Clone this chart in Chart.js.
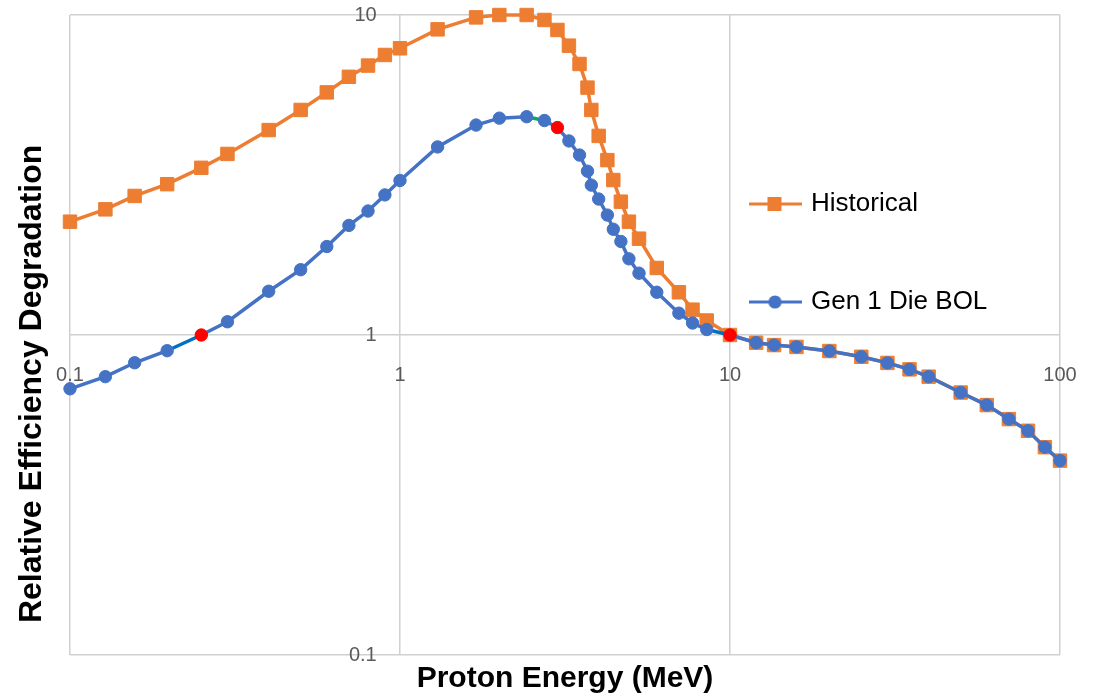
<!DOCTYPE html>
<html>
<head>
<meta charset="utf-8">
<title>Relative Efficiency Degradation vs Proton Energy</title>
<script src="https://cdn.jsdelivr.net/npm/chart.js@4.4.1/dist/chart.umd.min.js"></script>
<style>
  html, body { margin: 0; padding: 0; background: #fff; }
  #wrap { width: 1097px; height: 697px; }
</style>
</head>
<body>
<div id="wrap"><canvas id="degradationChart" width="1097" height="697"></canvas></div>
<script>
// proton energy in MeV, shared by both series
const energy = [0.1, 0.128, 0.157, 0.197, 0.25, 0.3, 0.4, 0.5, 0.6, 0.7, 0.8, 0.9, 1.0,
  1.3, 1.7, 2.0, 2.42, 2.74, 3.0, 3.25, 3.5, 3.7, 3.8, 4.0, 4.25, 4.43, 4.67, 4.94, 5.3,
  6.0, 7.0, 7.7, 8.5, 10, 12, 13.6, 15.9, 20, 25, 30, 35, 40, 50, 60, 70, 80, 90, 100];

const historical = [2.26, 2.47, 2.72, 2.96, 3.33, 3.68, 4.37, 5.05, 5.73, 6.41, 6.95, 7.5, 7.87,
  9.02, 9.83, 10.0, 10.0, 9.65, 8.98, 8.02, 7.03, 5.93, 5.05, 4.19, 3.52, 3.05, 2.61, 2.26, 2.0,
  1.62, 1.36, 1.2, 1.11, 1.0, 0.946, 0.93, 0.918, 0.891, 0.855, 0.818, 0.781, 0.741, 0.661, 0.604,
  0.546, 0.502, 0.446, 0.405];

const gen1DieBol = [0.679, 0.741, 0.819, 0.893, 1.0, 1.10, 1.37, 1.60, 1.89, 2.20, 2.44, 2.74, 3.04,
  3.87, 4.53, 4.76, 4.81, 4.68, 4.45, 4.04, 3.65, 3.25, 2.94, 2.66, 2.37, 2.14, 1.96, 1.73, 1.56,
  1.36, 1.17, 1.09, 1.04, 1.0, 0.946, 0.93, 0.918, 0.891, 0.855, 0.818, 0.781, 0.741, 0.661, 0.604,
  0.546, 0.502, 0.446, 0.405];

// Gen 1 points drawn in red
const flaggedEnergy = [0.25, 3, 10];

const xTickValues = [0.1, 1, 10, 100];
const yTickValues = [0.1, 1, 10];

const FONT = "'Liberation Sans', Arial, sans-serif";
const ORANGE = '#ED7D31';
const BLUE = '#4472C4';
const RED = '#FF0000';
const GRID = '#D0D0D0';
const TICK = '#595959';

// a few Gen 1 segments have their own line colour (keyed by starting energy)
function accentFor(e) {
  if (e === 0.197 || e === 8.5) return '#0070C0';
  if (e === 2.42) return '#00B050';
  return undefined;
}

function legendIcon(color, style) {
  const c = document.createElement('canvas');
  c.width = 53; c.height = 16;
  const g = c.getContext('2d');
  g.strokeStyle = color; g.lineWidth = 3;
  g.beginPath(); g.moveTo(0, 8); g.lineTo(53, 8); g.stroke();
  g.fillStyle = color;
  if (style === 'rect') {
    g.fillRect(19, 1, 14, 14);
  } else {
    g.beginPath(); g.arc(26.5, 8, 6.6, 0, Math.PI * 2); g.fill();
  }
  return c;
}

function fixedTicks(values) {
  return scale => { scale.ticks = values.map(v => ({ value: v })); };
}

// legend sits inside the plot, right of the 10 MeV line
const legendInside = {
  id: 'legendInside',
  afterLayout(chart) {
    const lg = chart.legend;
    lg.left = 680;
    lg.right = lg.left + lg.width;
    lg.top = 119;
    lg.bottom = chart.chartArea.bottom;
    lg.height = lg.bottom - lg.top;
  }
};

const pointColors = energy.map(e => flaggedEnergy.includes(e) ? RED : BLUE);

const ctx = document.getElementById('degradationChart').getContext('2d');
const chart = new Chart(ctx, {
  type: 'line',
  data: {
    datasets: [{
      label: 'Gen 1 Die BOL',
      data: energy.map((e, i) => ({ x: e, y: gen1DieBol[i] })),
      borderColor: BLUE,
      backgroundColor: BLUE,
      borderWidth: 3.5,
      pointStyle: 'circle',
      pointRadius: 6.2,
      pointBorderWidth: 1,
      pointBackgroundColor: pointColors,
      pointBorderColor: pointColors,
      tension: 0,
      clip: false,
      segment: { borderColor: c => accentFor(energy[c.p0DataIndex]) }
    }, {
      label: 'Historical',
      data: energy.map((e, i) => ({ x: e, y: historical[i] })),
      borderColor: ORANGE,
      backgroundColor: ORANGE,
      borderWidth: 3.5,
      pointStyle: 'rect',
      pointRadius: 9.5,
      pointBorderWidth: 1,
      pointBackgroundColor: ORANGE,
      pointBorderColor: ORANGE,
      tension: 0,
      clip: false
    }]
  },
  options: {
    responsive: false,
    animation: false,
    events: [],
    layout: { padding: { top: 15, right: 37, bottom: 0, left: 0 } },
    scales: {
      x: {
        type: 'logarithmic', position: 'bottom', min: 0.1, max: 100,
        afterBuildTicks: fixedTicks(xTickValues),
        ticks: { display: false },
        grid: { color: GRID, lineWidth: 1.5, drawTicks: false },
        border: { display: false },
        title: {
          display: true, text: 'Proton Energy (MeV)', color: '#000',
          font: { family: FONT, size: 30, weight: 'bold' },
          padding: { top: 6, bottom: 0 }
        }
      },
      y: {
        type: 'logarithmic', position: 'left', min: 0.1, max: 10,
        afterBuildTicks: fixedTicks(yTickValues),
        ticks: { display: false },
        grid: { color: GRID, lineWidth: 1.5, drawTicks: false },
        border: { display: false },
        title: {
          display: true, text: 'Relative Efficiency Degradation' + ' '.repeat(11), color: '#000',
          font: { family: FONT, size: 32, weight: 'bold' },
          padding: { top: 13, bottom: 18.6 }
        }
      },
      // tick labels crossing at 1 MeV / 1
      x2: {
        type: 'logarithmic', axis: 'x', position: { y: 1 }, min: 0.1, max: 100,
        afterBuildTicks: fixedTicks(xTickValues),
        grid: { display: false },
        border: { display: false },
        ticks: {
          color: TICK, font: { family: FONT, size: 20 }, padding: 20,
          maxRotation: 0, autoSkip: false, callback: v => String(v)
        }
      },
      y2: {
        type: 'logarithmic', axis: 'y', position: { x: 0.85 }, min: 0.1, max: 10,
        afterBuildTicks: fixedTicks(yTickValues),
        grid: { display: false },
        border: { display: false },
        ticks: {
          color: TICK, font: { family: FONT, size: 20 },
          autoSkip: false, callback: v => String(v)
        }
      }
    },
    plugins: {
      tooltip: { enabled: false },
      legend: {
        position: 'chartArea',
        align: 'start',
        labels: {
          usePointStyle: true,
          pointStyleWidth: 46,
          padding: 72,
          color: '#000',
          font: { family: FONT, size: 26 },
          sort: (a, b) => b.datasetIndex - a.datasetIndex,
          generateLabels(ch) {
            const items = Chart.defaults.plugins.legend.labels.generateLabels(ch);
            items.forEach(it => {
              const ds = ch.data.datasets[it.datasetIndex];
              it.pointStyle = legendIcon(ds.borderColor, ds.pointStyle);
            });
            return items;
          }
        }
      }
    }
  },
  plugins: [legendInside]
});
</script>
</body>
</html>
